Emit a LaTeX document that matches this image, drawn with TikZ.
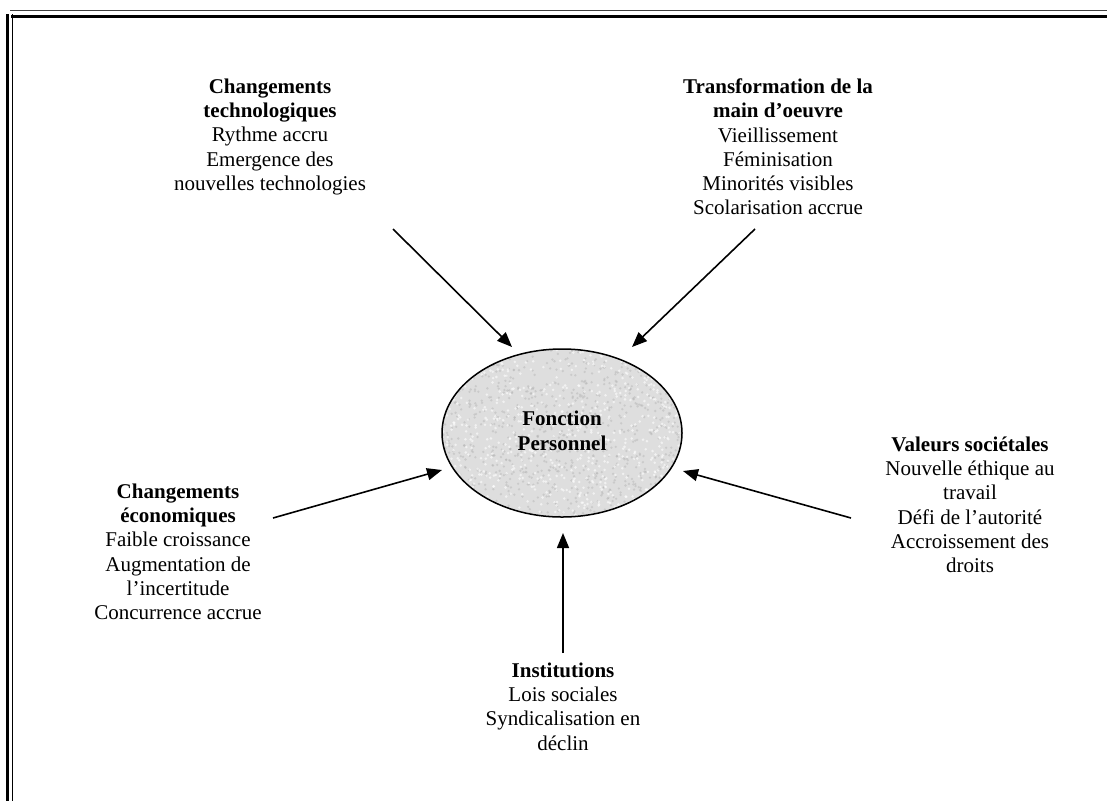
\documentclass[tikz,border=0pt]{standalone}
\usepackage{fontspec}
\setmainfont{Liberation Serif}
\usetikzlibrary{arrows.meta,calc,shapes.geometric}
\tikzset{
  blocktext/.style={align=center, inner sep=0pt, anchor=north, font=\fontsize{21}{24.3}\selectfont},
  flowarrow/.style={line width=1.6pt, -{Triangle[length=15pt,width=12pt]}},
  thickrule/.style={line width=3pt},
  thinrule/.style={line width=1.2pt}
}
\begin{document}
\begin{tikzpicture}[x=1pt,y=-1pt]
\useasboundingbox (0,0) rectangle (1107,801);
% page border
\draw[thinrule, black!75] (10,10.5) -- (1107,10.5);
\draw[thickrule] (11,16) -- (1107,16);
\draw[thickrule] (7.5,14) -- (7.5,801);
\draw[thinrule] (12.5,14) -- (12.5,801);
% central ellipse
\coordinate (c) at (562,433);
\fill[black!13] (c) ellipse [x radius=120, y radius=84];
\begin{scope}
  \clip (c) ellipse [x radius=120, y radius=84];
  \pgfmathsetseed{11}
  \foreach \i in {1,...,900} {
    \fill[black!30, opacity=0.45] ($(c)+(120*rand,84*rand)$) circle (1.3);
  }
  \foreach \i in {1,...,700} {
    \fill[white, opacity=0.6] ($(c)+(120*rand,84*rand)$) circle (1.4);
  }
\end{scope}
\node[draw, line width=1.5pt, ellipse, minimum width=240pt, minimum height=168pt, inner sep=0pt] (ell) at (c) {};
\node[align=center, inner sep=0pt, font=\fontsize{21}{25}\selectfont\bfseries] (fp) at (562,431) {Fonction\\Personnel};
% text blocks
\node[blocktext] (tl) at (270,78.5) {\textbf{Changements}\\\textbf{technologiques}\\Rythme accru\\Emergence des\\nouvelles technologies};
\node[blocktext] (tr) at (778,78.5) {\textbf{Transformation de la}\\\textbf{main d’oeuvre}\\Vieillissement\\Féminisation\\Minorités visibles\\Scolarisation accrue};
\node[blocktext] (lf) at (178,483.5) {\textbf{Changements}\\\textbf{économiques}\\Faible croissance\\Augmentation de\\l’incertitude\\Concurrence accrue};
\node[blocktext] (rt) at (970,436.5) {\textbf{Valeurs sociétales}\\Nouvelle éthique au\\travail\\Défi de l’autorité\\Accroissement des\\droits};
\node[blocktext] (bt) at (563,662.5) {\textbf{Institutions}\\Lois sociales\\Syndicalisation en\\déclin};
% arrow ends
\coordinate (s1) at (393,229); \coordinate (e1) at (512,347);
\coordinate (s2) at (755,229); \coordinate (e2) at (632,347);
\coordinate (s3) at (273,518); \coordinate (e3) at (442,470);
\coordinate (s4) at (851,518); \coordinate (e4) at (683,471);
\coordinate (s5) at (563,653); \coordinate (e5) at (563,533);
\draw[flowarrow] (s1) -- (e1);
\draw[flowarrow] (s2) -- (e2);
\draw[flowarrow] (s3) -- (e3);
\draw[flowarrow] (s4) -- (e4);
\draw[flowarrow] (s5) -- (e5);
\end{tikzpicture}
\end{document}
